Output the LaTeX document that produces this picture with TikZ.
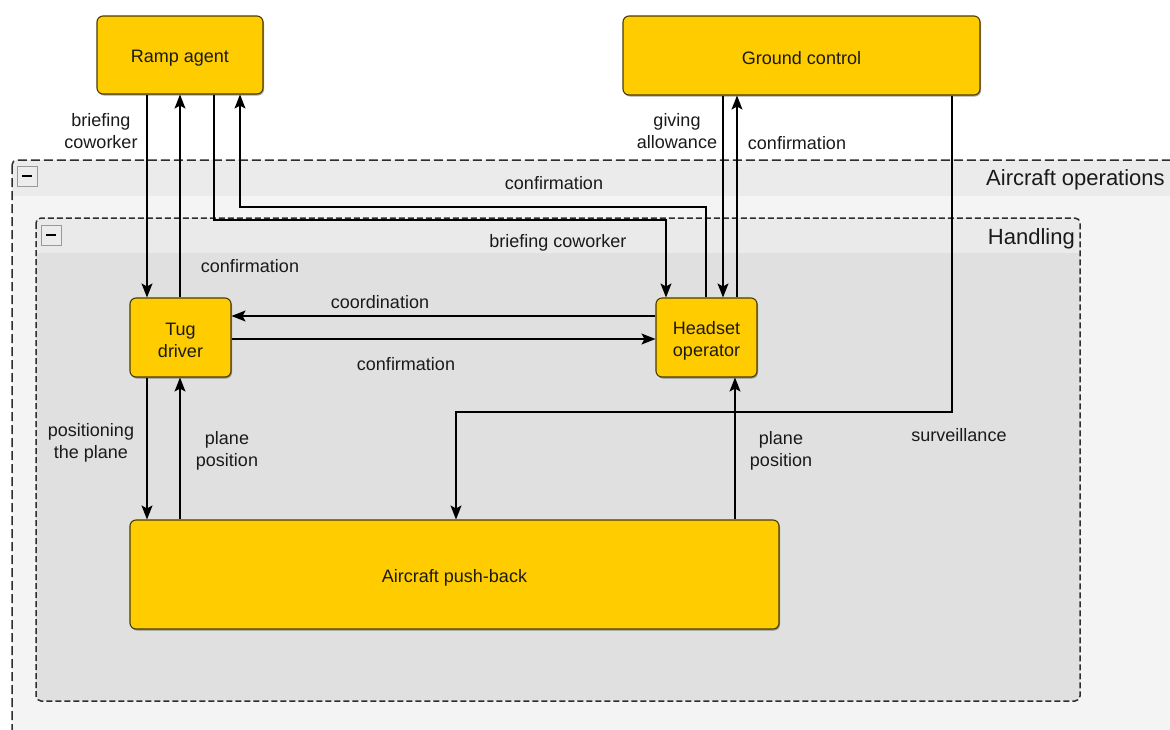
\documentclass[tikz,border=0pt]{standalone}
\usepackage{fontspec}
\setmainfont{Liberation Sans}
\usetikzlibrary{arrows.meta,shadows}
\definecolor{boxfill}{HTML}{FFCC00}
\definecolor{boxline}{HTML}{4A3B00}
\definecolor{txt}{HTML}{1A1A1A}
\definecolor{outerbody}{HTML}{F4F4F4}
\definecolor{outerhead}{HTML}{EBEBEB}
\definecolor{innerbody}{HTML}{E0E0E0}
\definecolor{innerhead}{HTML}{EAEAEA}
\definecolor{frame}{HTML}{2E2E2E}
\begin{document}
\begin{tikzpicture}[x=1pt,y=-1pt,
  actor/.style={draw=boxline, fill=boxfill, rounded corners=6pt, line width=1.1pt,
    inner sep=0pt,
    drop shadow={shadow xshift=1pt, shadow yshift=-1.5pt, opacity=0.35, fill=black}},
  boxtext/.style={align=center, text=txt, inner sep=0pt, yshift=-3pt,
    font=\fontsize{18}{22}\selectfont},
  lbl/.style={align=center, text=txt, inner sep=1pt, font=\fontsize{18}{22.5}\selectfont},
  title/.style={text=txt, inner sep=0pt, font=\fontsize{22}{26}\selectfont},
  flow/.style={draw=black, line width=1.3pt, -{Stealth[length=14pt,width=11pt,inset=3pt]}},
  container/.style={draw=frame, line width=1.5pt, rounded corners=5pt},
  collapse/.style={draw=gray!80, fill=gray!15, line width=0.8pt},
]
\useasboundingbox (0,0) rectangle (1170,729);
\clip (0,0) rectangle (1170,729);
\fill[white] (0,0) rectangle (1170,729);

% Outer container: Aircraft operations
\fill[outerbody, rounded corners=5pt] (12,160) rectangle (1200,760);
\begin{scope}
  \clip[rounded corners=5pt] (12,160) rectangle (1200,760);
  \fill[outerhead] (12,160) rectangle (1200,196);
\end{scope}
\draw[container, dash pattern=on 9pt off 4pt] (12,160) rectangle (1200,760);
\draw[collapse] (17,166) rectangle (37,186);
\draw[line width=2.4pt] (22,176) -- (32,176);
\node[title, anchor=west] (tOps) at (986,180) {Aircraft operations};

% Inner container: Handling
\fill[innerbody, rounded corners=5pt] (36,218) rectangle (1080,701);
\begin{scope}
  \clip[rounded corners=5pt] (36,218) rectangle (1080,701);
  \fill[innerhead] (36,218) rectangle (1080,253);
\end{scope}
\draw[container, dash pattern=on 6pt off 3pt] (36,218) rectangle (1080,701);
\draw[collapse] (41,225) rectangle (61,245);
\draw[line width=2.4pt] (46,235) -- (56,235);
\node[title, anchor=east] (tHand) at (1075,239) {Handling};

% Actors
\node[actor, minimum width=166pt, minimum height=78pt,
  label={[boxtext]center:Ramp agent}] (ramp) at (180,55) {};
\node[actor, minimum width=357pt, minimum height=79pt,
  label={[boxtext]center:Ground control}] (ground) at (801.5,55.5) {};
\node[actor, minimum width=101pt, minimum height=79pt,
  label={[boxtext]center:Tug\\driver}] (tug) at (180.5,337.5) {};
\node[actor, minimum width=101pt, minimum height=79pt,
  label={[boxtext]center:Headset\\operator}] (head) at (706.5,337.5) {};
\node[actor, minimum width=649pt, minimum height=109pt,
  label={[boxtext]center:Aircraft push-back}] (push) at (454.5,574.5) {};

% Routing columns and rows
\coordinate (c147) at (147,0);
\coordinate (c180) at (180,0);
\coordinate (c214) at (214,0);
\coordinate (c240) at (240,0);
\coordinate (c666) at (666,0);
\coordinate (c706) at (706,0);
\coordinate (c723) at (723,0);
\coordinate (c737) at (737,0);
\coordinate (c735) at (735,0);
\coordinate (c952) at (952,0);
\coordinate (c456) at (456,0);
\coordinate (r207) at (0,207);
\coordinate (r220) at (0,220);
\coordinate (r316) at (0,316);
\coordinate (r339) at (0,339);
\coordinate (r412) at (0,412);

% Connectors
\draw[flow] (ramp.south -| c147) -- (tug.north -| c147);
\draw[flow] (tug.north -| c180) -- (ramp.south -| c180);
\draw[flow] (ramp.south -| c214) -- (c214 |- r220) -- (c666 |- r220) -- (head.north -| c666);
\draw[flow] (head.north -| c706) -- (c706 |- r207) -- (c240 |- r207) -- (ramp.south -| c240);
\draw[flow] (ground.south -| c723) -- (head.north -| c723);
\draw[flow] (head.north -| c737) -- (ground.south -| c737);
\draw[flow] (head.west |- r316) -- (tug.east |- r316);
\draw[flow] (tug.east |- r339) -- (head.west |- r339);
\draw[flow] (tug.south -| c147) -- (push.north -| c147);
\draw[flow] (push.north -| c180) -- (tug.south -| c180);
\draw[flow] (push.north -| c735) -- (head.south -| c735);
\draw[flow] (ground.south -| c952) -- (c952 |- r412) -- (c456 |- r412) -- (push.north -| c456);

% Connector labels
\node[lbl] (lBrief1) at (101,131) {briefing\\coworker};
\node[lbl] (lConf1) at (250,266) {confirmation};
\node[lbl] (lBrief2) at (558,243) {briefing coworker};
\node[lbl] (lConf2) at (554,183) {confirmation};
\node[lbl] (lGive) at (677,131) {giving\\allowance};
\node[lbl] (lConf3) at (797,143) {confirmation};
\node[lbl] (lCoord) at (380,302) {coordination};
\node[lbl] (lConf4) at (406,364) {confirmation};
\node[lbl] (lPos) at (91,443) {positioning\\the plane};
\node[lbl] (lPlane1) at (227,451) {plane\\position};
\node[lbl] (lPlane2) at (781,451) {plane\\position};
\node[lbl] (lSurv) at (959,435) {surveillance};
\end{tikzpicture}
\end{document}
